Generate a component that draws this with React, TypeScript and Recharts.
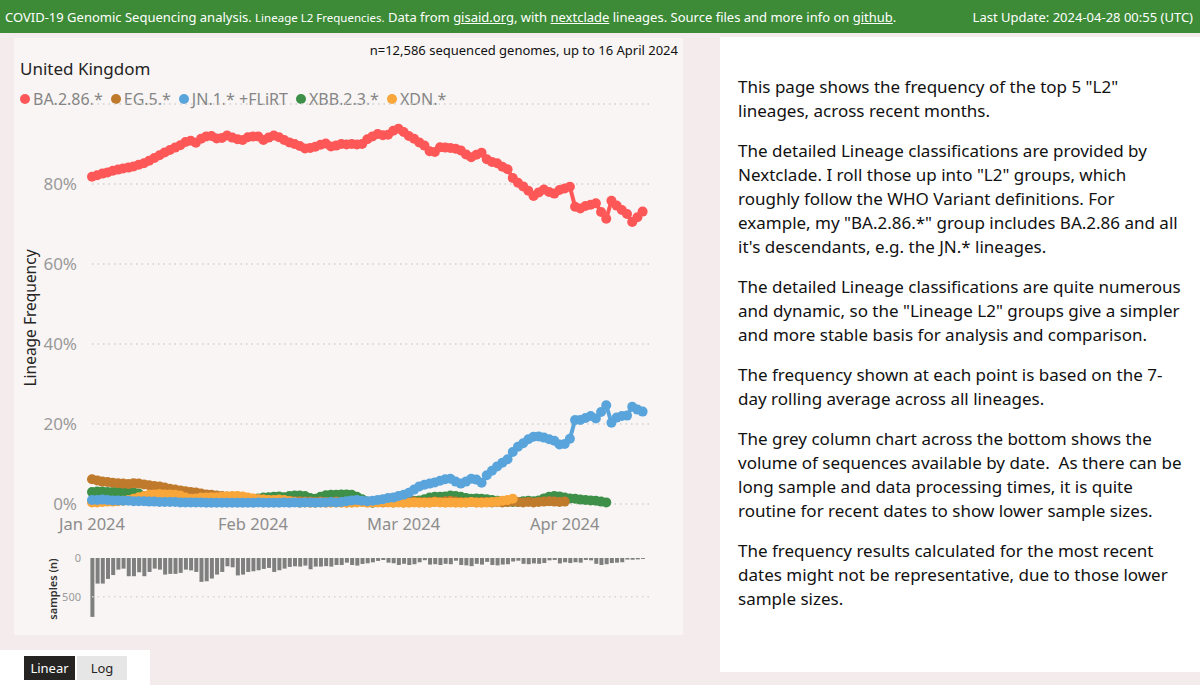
import React from 'react'
import {
  LineChart, Line, BarChart, Bar, XAxis, YAxis, CartesianGrid, ReferenceLine,
} from 'recharts'

const FONT = '"Segoe UI", "Noto Sans", sans-serif'

// series colours
const RED    = '#fd5757'
const BROWN  = '#bf7a2c'
const BLUE   = '#5aa4dc'
const GREEN  = '#3e9049'
const ORANGE = '#f9a63a'
const BAR_GREY = '#7f7f7f'

// x axis: day index from 1 Jan 2024
const MONTH_TICKS  = [0, 31, 60, 91]
const MONTH_LABELS = ['Jan 2024', 'Feb 2024', 'Mar 2024', 'Apr 2024']
const PCT_TICKS    = [0, 20, 40, 60, 80]
const SAMPLE_TICKS = [0, 500]

// lineage frequency, % (7-day rolling), one value per day, 1 Jan .. 16 Apr
const BA286 = [
  81.8, 82.2, 82.6, 82.9, 83.3, 83.6, 83.9, 84.1, 84.4, 84.8,
  85.2, 85.8, 86.5, 87.2, 87.9, 88.5, 89.1, 89.7, 90.5, 90.8,
  90.3, 91.3, 91.9, 92.0, 91.4, 91.5, 92.1, 91.6, 91.2, 91.0,
  91.7, 91.9, 91.9, 91.0, 91.6, 92.1, 91.7, 91.0, 90.4, 90.0,
  89.5, 88.9, 89.0, 89.3, 89.8, 90.1, 89.4, 89.6, 90.0, 89.9,
  90.0, 89.9, 90.0, 91.2, 91.9, 92.5, 92.2, 92.3, 93.3, 93.8,
  93.0, 92.0, 91.3, 90.4, 89.6, 88.2, 88.0, 89.2, 89.1, 89.0,
  88.8, 88.4, 87.4, 86.7, 87.3, 87.8, 86.2, 85.5, 85.2, 84.3,
  83.7, 81.5, 80.3, 79.4, 78.3, 77.0, 77.9, 78.6, 78.0, 77.6,
  78.5, 78.9, 79.3, 74.3, 73.9, 74.5, 74.8, 75.2, 73.0, 71.3,
  75.8, 74.6, 73.5, 72.5, 70.5, 71.7, 73.1,
]
const EG5 = [
  6.2, 5.9, 5.6, 5.5, 5.3, 5.2, 5.1, 5.0, 5.2, 5.1,
  4.9, 4.7, 4.5, 4.4, 4.1, 3.8, 3.6, 3.4, 3.2, 3.0,
  2.9, 2.6, 2.4, 2.3, 2.1, 2.0, 1.9, 1.8, 1.7, 1.5,
  1.4, 1.3, 1.2, 1.1, 1.0, 0.9, 0.9, 0.8, 0.8, 0.7,
  0.7, 0.6, 0.6, 0.5, 0.6, 0.5, 0.5, 0.6, 0.5, 0.4,
  0.5, 0.5, 0.6, 0.5, 0.4, 0.5, 0.4, 0.5, 0.4, 0.5,
  0.4, 0.5, 0.6, 0.5, 0.4, 0.5, 0.6, 0.5, 0.7, 0.8,
  0.6, 0.5, 0.4, 0.5, 0.4, 0.5, 0.5, 0.4, 0.5, 0.4,
  0.5, 0.6, 0.5, 0.4, 0.5, 0.4, 0.5, 0.6, 0.7, 0.6,
  0.5, 0.6, null, null, null, null, null, null, null, null,
  null, null, null, null, null, null, null,
]
const JN1 = [
  1.0, 1.0, 1.1, 1.0, 0.9, 0.9, 0.8, 0.8, 0.7, 0.7,
  0.7, 0.6, 0.6, 0.5, 0.5, 0.5, 0.5, 0.4, 0.4, 0.4,
  0.4, 0.4, 0.3, 0.3, 0.3, 0.3, 0.3, 0.3, 0.3, 0.3,
  0.3, 0.3, 0.4, 0.3, 0.3, 0.3, 0.3, 0.4, 0.3, 0.4,
  0.3, 0.4, 0.4, 0.3, 0.4, 0.4, 0.5, 0.4, 0.5, 0.7,
  0.9, 1.0, 0.8, 0.7, 0.8, 1.0, 1.2, 1.5, 1.6, 2.0,
  2.3, 2.8, 3.6, 4.4, 4.8, 5.1, 5.4, 5.8, 6.2, 6.3,
  5.6, 5.1, 5.6, 6.3, 6.1, 5.3, 7.2, 8.3, 9.4, 10.3,
  11.2, 13.0, 14.3, 15.2, 16.2, 16.8, 16.9, 16.6, 16.2, 15.8,
  14.9, 15.0, 16.3, 21.0, 21.0, 21.5, 22.0, 21.4, 23.0, 24.7,
  20.3, 21.6, 22.0, 22.1, 24.3, 23.6, 23.1,
]
const XBB23 = [
  3.0, 3.1, 3.1, 3.0, 3.0, 3.1, 3.0, 2.9, 2.9, 2.6,
  2.0, 1.4, 1.1, 1.0, 0.9, 0.9, 0.9, 0.8, 0.8, 0.8,
  0.7, 0.6, 0.6, 0.7, 0.6, 0.7, 0.8, 0.6, 0.5, 0.6,
  0.8, 1.0, 1.4, 1.6, 1.7, 1.8, 1.9, 1.7, 2.0, 2.1,
  2.1, 2.0, 1.5, 1.3, 1.8, 2.2, 2.3, 2.3, 2.4, 2.4,
  2.3, 1.8, 1.2, 0.6, 0.3, 0.5, 0.7, 0.7, 0.5, 0.6,
  0.8, 0.6, 0.8, 0.9, 1.2, 1.6, 1.8, 1.8, 1.9, 2.1,
  2.0, 1.8, 1.5, 1.3, 1.4, 1.3, 1.2, 1.0, 0.8, 0.6,
  0.5, 0.5, 0.5, 0.7, 0.8, 0.7, 0.9, 1.4, 1.8, 2.0,
  1.9, 1.6, 1.4, 1.3, 1.1, 1.0, 0.9, 0.8, 0.6, 0.4,
  null, null, null, null, null, null, null,
]
const XDN = [
  0.4, 0.4, 0.5, 0.6, 0.6, 0.7, 0.8, 1.0, 1.3, 1.7,
  2.0, 2.3, 2.4, 2.5, 2.4, 2.4, 2.3, 2.1, 1.6, 1.3,
  1.4, 1.6, 1.6, 1.7, 1.7, 1.8, 1.9, 2.0, 2.0, 1.9,
  1.6, 1.4, 1.2, 1.1, 1.0, 1.0, 1.1, 1.0, 0.7, 0.5,
  0.3, 0.4, 0.3, 0.3, 0.4, 0.3, 0.3, 0.4, 0.3, 0.3,
  0.3, 0.4, 0.5, 0.3, 0.4, 0.4, 0.5, 0.4, 0.3, 0.4,
  0.3, 0.3, 0.4, 0.3, 0.4, 0.3, 0.5, 0.4, 0.3, 0.4,
  0.3, 0.3, 0.4, 0.5, 0.4, 0.3, 0.4, 0.5, 0.6, 0.8,
  1.0, 1.3, null, null, null, null, null, null, null, null,
  null, null, null, null, null, null, null, null, null, null,
  null, null, null, null, null, null, null,
]

// sequenced samples per day
const SAMPLES = [
  760, 330, 330, 270, 220, 150, 137, 235, 235, 184,
  235, 180, 137, 150, 214, 205, 205, 192, 150, 160,
  180, 308, 300, 265, 214, 180, 107, 120, 225, 214,
  180, 171, 158, 141, 128, 180, 158, 137, 115, 107,
  111, 98, 145, 111, 111, 105, 111, 90, 90, 60,
  90, 98, 77, 68, 56, 38, 26, 60, 68, 90,
  75, 90, 80, 55, 28, 85, 80, 90, 75, 80,
  35, 90, 95, 105, 75, 85, 50, 90, 95, 85,
  80, 45, 35, 75, 80, 70, 75, 65, 30, 25,
  70, 55, 65, 55, 60, 25, 30, 75, 90, 80,
  65, 60, 55, 20, 22, 18, 12,
]

const SERIES = [
  { key: 'xbb', name: 'XBB.2.3.*', color: GREEN, values: XBB23 },
  { key: 'eg5', name: 'EG.5.*', color: BROWN, values: EG5 },
  { key: 'xdn', name: 'XDN.*', color: ORANGE, values: XDN },
  { key: 'jn1', name: 'JN.1.* +FLiRT', color: BLUE, values: JN1 },
  { key: 'ba286', name: 'BA.2.86.*', color: RED, values: BA286 },
]
const LEGEND_ORDER = ['ba286', 'eg5', 'jn1', 'xbb', 'xdn']

const lineData = BA286.map((_, i) => {
  const row: Record<string, number | null> = { day: i }
  for (const s of SERIES) row[s.key] = s.values[i]
  return row
})
const barData = SAMPLES.map((n, i) => ({ day: i, n }))

// shared horizontal geometry so the two charts line up
const SVG_W = 700
const MARGIN_L = 8
const AXIS_W = 84
const MARGIN_R = 47
const X_DOMAIN: [number, number] = [0, 108]

const PARAGRAPHS = [
  ['This page shows the frequency of the top 5 "L2"', 'lineages, across recent months.'],
  ['The detailed Lineage classifications are provided by', 'Nextclade. I roll those up into "L2" groups, which', 'roughly follow the WHO Variant definitions. For', 'example, my "BA.2.86.*" group includes BA.2.86 and all', "it's descendants, e.g. the JN.* lineages."],
  ['The detailed Lineage classifications are quite numerous', 'and dynamic, so the "Lineage L2" groups give a simpler', 'and more stable basis for analysis and comparison.'],
  ['The frequency shown at each point is based on the 7-', 'day rolling average across all lineages.'],
  ['The grey column chart across the bottom shows the', 'volume of sequences available by date.\u00a0 As there can be', 'long sample and data processing times, it is quite', 'routine for recent dates to show lower sample sizes.'],
  ['The frequency results calculated for the most recent', 'dates might not be representative, due to those lower', 'sample sizes.'],
]

const abs = (l: number, t: number, w?: number, h?: number): React.CSSProperties => ({
  position: 'absolute', left: l, top: t, width: w, height: h,
})

export default function App() {
  return (
    <div style={{ ...abs(0, 0, 1200, 685), background: '#f3ebec', fontFamily: FONT, overflow: 'hidden' }}>
      {/* header bar */}
      <div style={{ ...abs(0, 0, 1200, 33), background: '#3d8b37', color: 'white', fontSize: 13, lineHeight: '34px', whiteSpace: 'nowrap' }}>
        <span style={{ position: 'absolute', left: 5 }}>
          COVID-19 Genomic Sequencing analysis. <span style={{ fontSize: 11.5 }}>Lineage L2 Frequencies.</span> Data from{' '}
          <u>gisaid.org</u>, with <u>nextclade</u> lineages. Source files and more info on <u>github</u>.
        </span>
        <span style={{ position: 'absolute', right: 7 }}>Last Update: 2024-04-28 00:55 (UTC)</span>
      </div>

      {/* chart panel */}
      <div style={{ ...abs(14, 38, 669, 597), background: '#f8f5f4' }} />
      <div style={{ ...abs(0, 41, 678, 20), fontSize: 13, color: '#111', textAlign: 'right', whiteSpace: 'nowrap' }}>
        n=12,586 sequenced genomes, up to 16 April 2024
      </div>
      <div style={{ ...abs(20, 57), fontSize: 17, color: '#252423', whiteSpace: 'nowrap' }}>United Kingdom</div>
      <div style={{ ...abs(20, 88), display: 'flex', alignItems: 'center', fontSize: 16, color: '#858585', whiteSpace: 'nowrap' }}>
        {LEGEND_ORDER.map((k) => {
          const s = SERIES.find((x) => x.key === k)!
          return (
            <span key={k} style={{ display: 'flex', alignItems: 'center', marginRight: 8 }}>
              <span style={{ width: 10, height: 10, borderRadius: 5, background: s.color, marginRight: 3 }} />
              {s.name}
            </span>
          )
        })}
      </div>
      <div style={{ ...abs(30, 318), transform: 'translate(-50%, -50%) rotate(-90deg)', fontSize: 15.5, color: '#252423', whiteSpace: 'nowrap' }}>
        Lineage Frequency
      </div>

      <div style={abs(0, 100)}>
        <LineChart width={SVG_W} height={440} data={lineData}
          margin={{ top: 4, right: MARGIN_R, left: MARGIN_L, bottom: 0 }}>
          <CartesianGrid vertical={false} stroke="#cfcfcf" strokeWidth={1.5} strokeDasharray="1.5 4" />
          <XAxis dataKey="day" type="number" domain={X_DOMAIN} ticks={MONTH_TICKS}
            tickFormatter={(v) => MONTH_LABELS[MONTH_TICKS.indexOf(v)] ?? ''}
            axisLine={false} tickLine={false} height={36} tickMargin={8}
            tick={{ fontSize: 16.5, fill: '#8c8c8c', fontFamily: FONT }} />
          <YAxis type="number" domain={[0, 100]} ticks={PCT_TICKS} width={AXIS_W}
            tickFormatter={(v) => `${v}%`} axisLine={false} tickLine={false} tickMargin={9}
            tick={{ fontSize: 17, fill: '#9a9a9a', fontFamily: FONT }} />
          {SERIES.map((s) => (
            <Line key={s.key} dataKey={s.key} type="linear" stroke={s.color} strokeWidth={4}
              dot={{ r: 5, fill: s.color, stroke: 'none' }} activeDot={false}
              isAnimationActive={false} />
          ))}
        </LineChart>
      </div>

      {/* samples column chart */}
      <div style={{ ...abs(52, 589), transform: 'translate(-50%, -50%) rotate(-90deg)', fontSize: 11, fontWeight: 600, color: '#333', whiteSpace: 'nowrap' }}>
        samples (n)
      </div>
      <div style={abs(0, 550)}>
        <BarChart width={SVG_W} height={76} data={barData}
          margin={{ top: 8, right: MARGIN_R, left: MARGIN_L, bottom: 6 }} barCategoryGap={1}>
          <XAxis dataKey="day" type="number" domain={X_DOMAIN} hide />
          <YAxis type="number" reversed domain={[0, 800]} ticks={SAMPLE_TICKS} width={AXIS_W}
            axisLine={false} tickLine={false} tickMargin={5}
            tick={{ fontSize: 11, fill: '#9a9a9a', fontFamily: FONT }} />
          <ReferenceLine y={500} stroke="#d6d6d6" strokeWidth={1.5} strokeDasharray="1.5 4" />
          <Bar dataKey="n" fill={BAR_GREY} barSize={4} isAnimationActive={false} />
        </BarChart>
      </div>

      {/* notes panel */}
      <div style={{ ...abs(720, 37, 480, 635), background: 'white' }} />
      <div style={{ ...abs(738, 75), fontSize: 17, lineHeight: '24px', color: '#111', whiteSpace: 'nowrap' }}>
        {PARAGRAPHS.map((p, i) => (
          <div key={i} style={{ marginBottom: 16 }}>
            {p.map((line, j) => <div key={j}>{line}</div>)}
          </div>
        ))}
      </div>

      {/* scale buttons */}
      <div style={{ ...abs(0, 650, 150, 35), background: 'white' }} />
      <div style={{ ...abs(24, 656, 51, 24), background: '#252423', color: 'white', fontSize: 13, lineHeight: '24px', textAlign: 'center' }}>Linear</div>
      <div style={{ ...abs(77, 656, 50, 24), background: '#e6e6e6', color: '#252423', fontSize: 13, lineHeight: '24px', textAlign: 'center' }}>Log</div>
    </div>
  )
}
